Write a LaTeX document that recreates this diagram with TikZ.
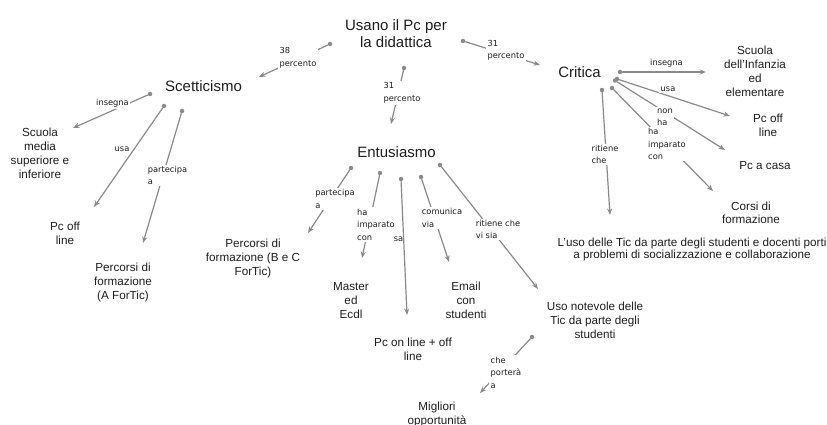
\documentclass[tikz,border=0pt]{standalone}
\usepackage{fontspec}
\setmainfont{Liberation Sans}
\newfontfamily\lblfont{DejaVu Sans}
\usetikzlibrary{arrows.meta}
\definecolor{linkgrey}{HTML}{8A8A8A}
\definecolor{ink}{HTML}{1E1E1E}

\begin{document}
\begin{tikzpicture}[x=1pt,y=-1pt,
  main/.style={text=ink, font=\fontsize{15}{17}\selectfont, align=center, inner sep=0pt},
  leaf/.style={text=ink, font=\fontsize{11.7}{14}\selectfont, align=center, inner sep=0pt},
  lbl/.style={text=ink, font=\lblfont\fontsize{8.3}{12.5}\selectfont, align=left,
              inner sep=1.5pt, fill=white},
  sidelbl/.style={lbl, fill=none},
  dot/.style={circle, fill=linkgrey, minimum size=4.5pt, inner sep=0pt},
  link/.style={draw=linkgrey, line width=1.2pt, line cap=round},
  arr/.style={link, -{Stealth[length=6.5pt,width=5pt]}},
]
\useasboundingbox (0,0) rectangle (827,425);

% ---- concepts ----
\node[main] (root) at (396,33.5) {Usano il Pc per\\la didattica};
\node[main] (scet) at (203.5,86) {Scetticismo};
\node[main] (entu) at (396.5,152) {Entusiasmo};
\node[main] (crit) at (579.5,72) {Critica};

\node[leaf] (smedia)  at (40,153)    {Scuola\\media\\superiore e\\inferiore};
\node[leaf] (pcoffA)  at (65,233)    {Pc off\\line};
\node[leaf] (percA)   at (123,282)   {Percorsi di\\formazione\\(A ForTic)};
\node[leaf] (percBC)  at (253,258)   {Percorsi di\\formazione (B e C\\ForTic)};
\node[leaf] (master)  at (351,301)   {Master\\ed\\Ecdl};
\node[leaf] (pconoff) at (413,349)   {Pc on line + off\\line};
\node[leaf] (email)   at (466,300)   {Email\\con\\studenti};
\node[leaf] (usonot)  at (595,320)   {Uso notevole delle\\Tic da parte degli\\studenti};
\node[leaf] (migl)    at (437,414)   {Migliori\\opportunità};
\node[leaf] (sinf)    at (755,71)    {Scuola\\dell'Infanzia\\ed\\elementare};
\node[leaf] (pcoffB)  at (768,125.5) {Pc off\\line};
\node[leaf] (pccasa)  at (765,166)   {Pc a casa};
\node[leaf, font=\fontsize{11.7}{13}\selectfont] (corsi) at (751,212.5) {Corsi di\\formazione};
\node[leaf, font=\fontsize{11.7}{12.8}\selectfont] (luso) at (692,249.5)
  {L'uso delle Tic da parte degli studenti e docenti porti\\a problemi di socializzazione e collaborazione};

% ---- link start dots ----
\node[dot] (d1)  at (330,44)  {};
\node[dot] (d2)  at (404,68)  {};
\node[dot] (d3)  at (463,41)  {};
\node[dot] (d4)  at (150,94)  {};
\node[dot] (d5)  at (164,106) {};
\node[dot] (d6)  at (182,111) {};
\node[dot] (d7)  at (351,168) {};
\node[dot] (d8)  at (380,173) {};
\node[dot] (d9)  at (401,179) {};
\node[dot] (d10) at (421,177) {};
\node[dot] (d11) at (440,165) {};
\node[dot] (d12) at (532,337) {};
\node[dot] (d13) at (620,72)  {};
\node[dot] (d14) at (617,79)  {};
\node[dot] (d15) at (615,80.5){};
\node[dot] (d16) at (612,88)  {};
\node[dot] (d17) at (602,90)  {};

% ---- arrow tips, just short of each target concept ----
\coordinate (e1)  at (259,77);
\coordinate (e2)  at (391,124);
\coordinate (e3)  at (540,65);
\coordinate (e4)  at (73,128);
\coordinate (e5)  at (94,207);
\coordinate (e6)  at (143,243);
\coordinate (e7)  at (308,233);
\coordinate (e8)  at (362,258);
\coordinate (e9)  at (407,315);
\coordinate (e10) at (449,262);
\coordinate (e11) at (538,289);
\coordinate (e12) at (480,393);
\coordinate (e13) at (706,72);
\coordinate (e14) at (730,116);
\coordinate (e15) at (725,150);
\coordinate (e16) at (713,191);
\coordinate (e17) at (610,215);

% ---- connectors ----
\foreach \i in {1,...,17} { \draw[arr] (d\i) -- (e\i); }

% ---- linking phrases (masking the line behind them) ----
\node[lbl] (l1)  at (298,58)    {38\\percento};
\node[lbl] (l2)  at (402,93)    {31\\percento};
\node[lbl] (l3)  at (506,50.5)  {31\\percento};
\node[lbl] (l4)  at (112.5,103) {insegna};
\node[sidelbl] (l5) at (122,149) {usa};
\node[lbl] (l6)  at (167.5,175.5) {partecipa\\a};
\node[lbl] (l7)  at (335,199)   {partecipa\\a};
\node[lbl] (l8)  at (376,224.5) {ha\\imparato\\con};
\node[sidelbl, inner sep=0pt] (l9) at (398.5,239) {sa};
\node[lbl] (l10) at (442,218)   {comunica\\via};
\node[lbl] (l11) at (498,229.5) {ritiene che\\vi sia};
\node[lbl] (l12) at (506,372.5) {che\\porterà\\a};
\node[sidelbl] (l13) at (666.5,63) {insegna};
\node[lbl] (l14) at (668,89)    {usa};
\node[lbl] (l15) at (665,117)   {non\\ha};
\node[lbl] (l16) at (667,144)   {ha\\imparato\\con};
\node[lbl] (l17) at (605,154.5) {ritiene\\che};

\end{tikzpicture}
\end{document}
